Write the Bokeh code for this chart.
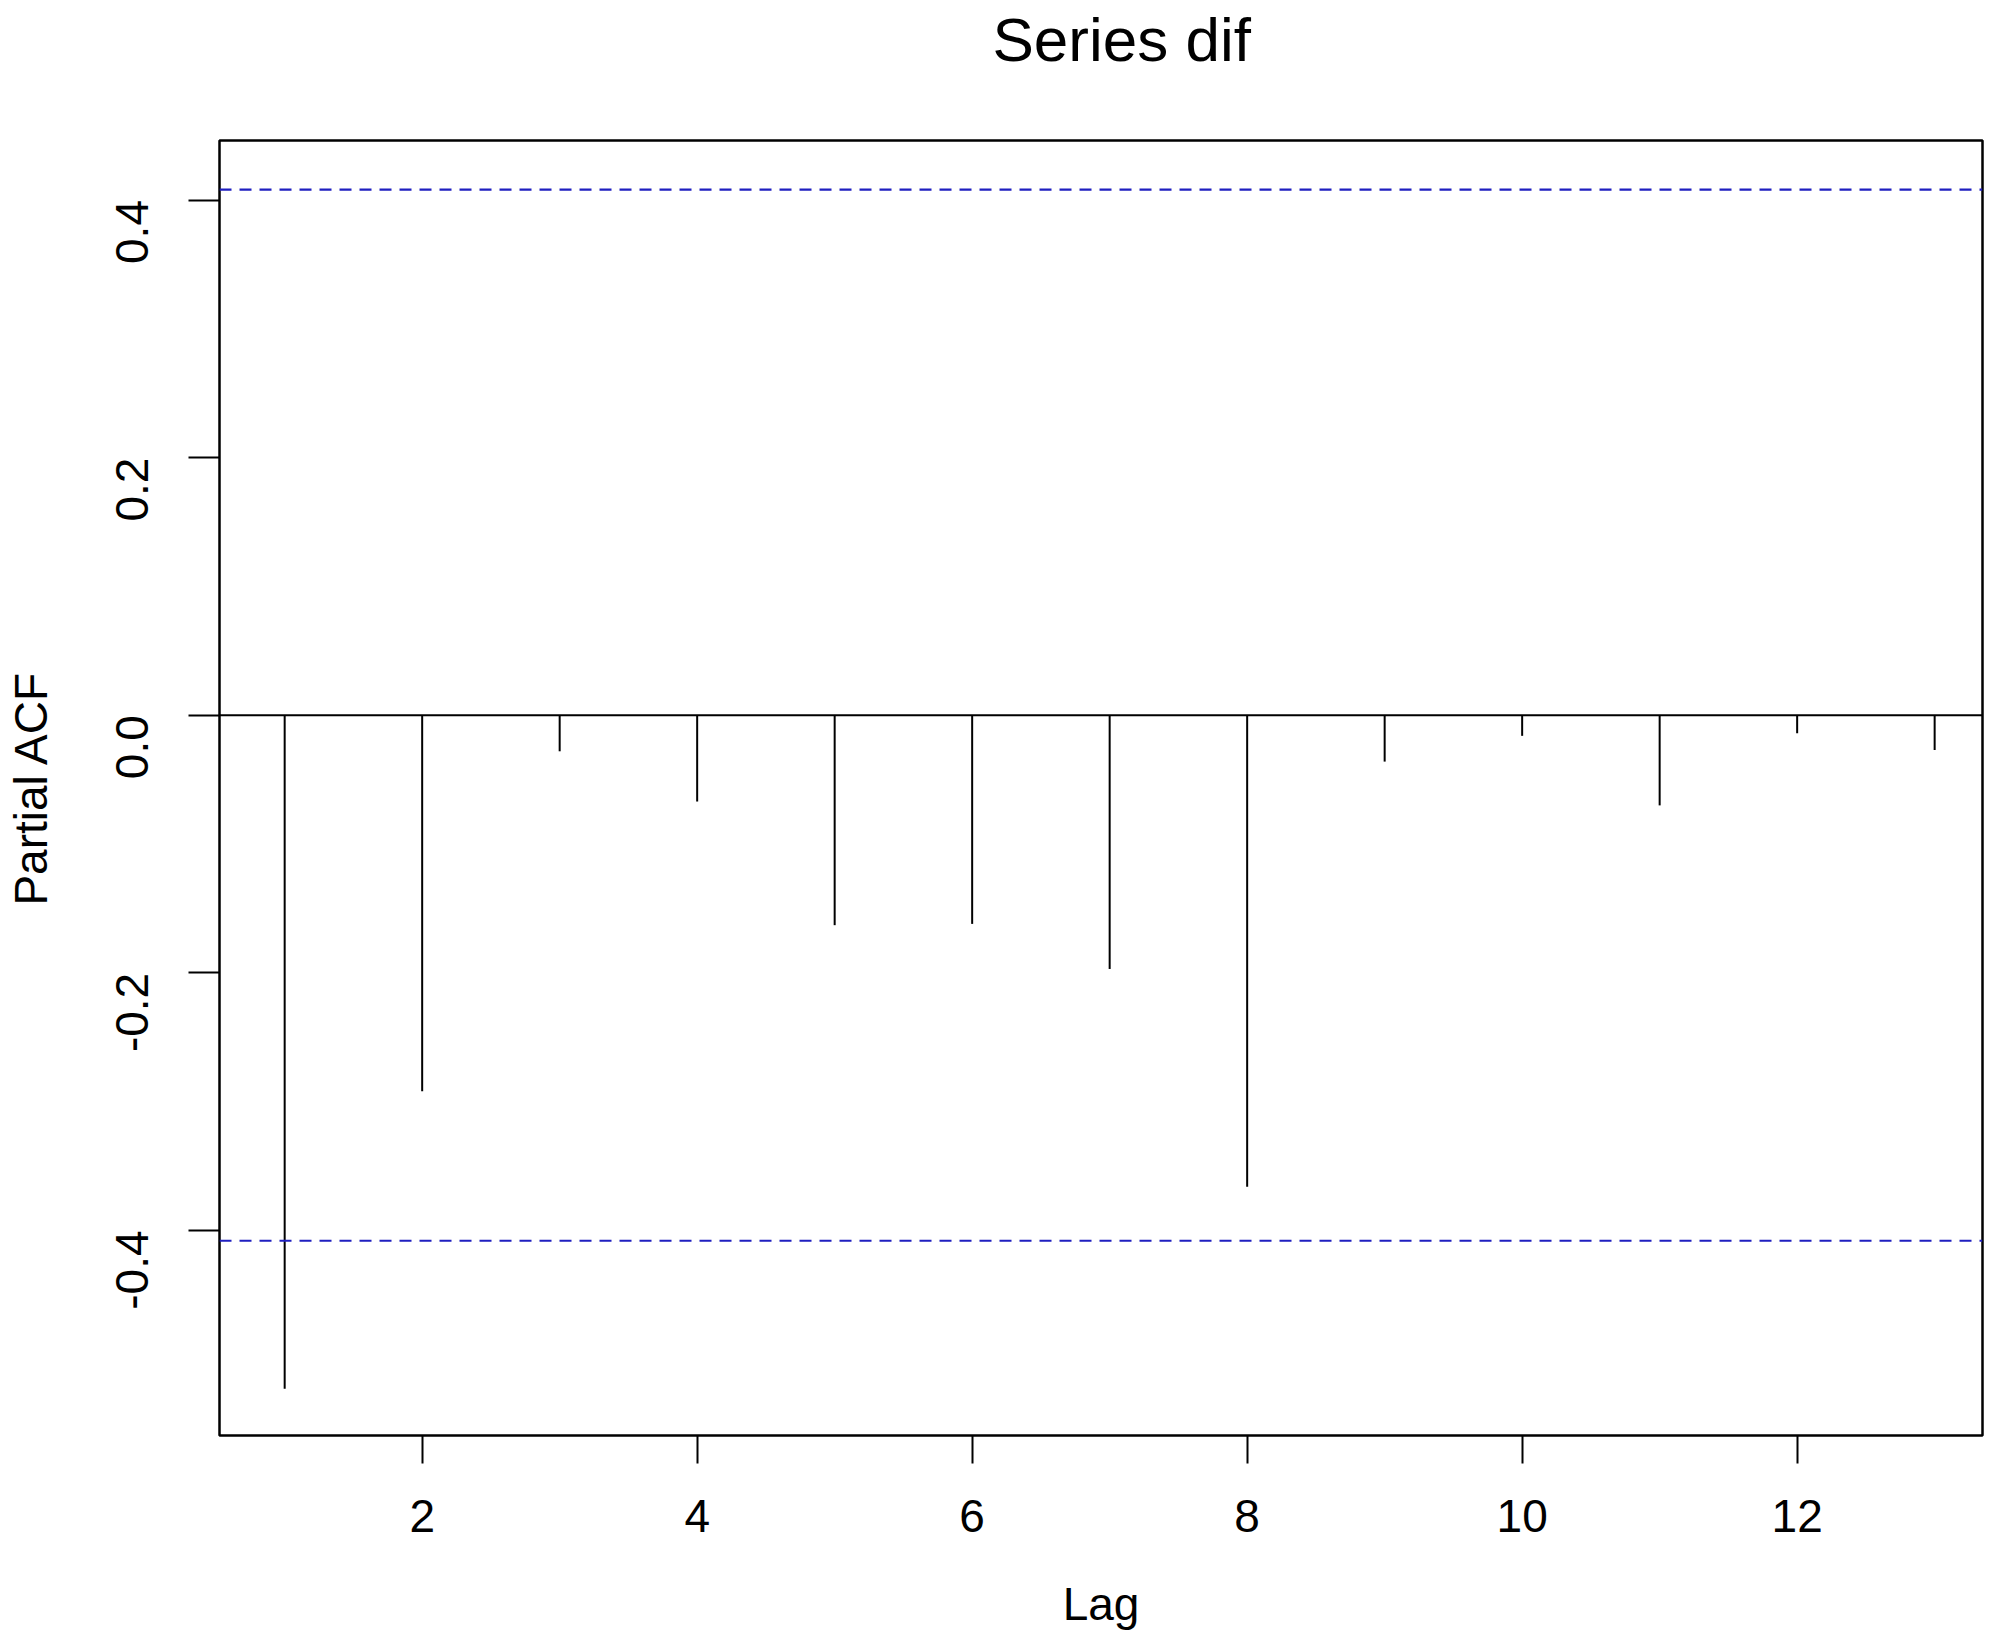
import math
from bokeh.plotting import figure
from bokeh.models import Span, Title, FixedTicker, Range1d
from bokeh.embed import file_html
from bokeh.resources import INLINE

# ---- data ----
lags = [1, 2, 3, 4, 5, 6, 7, 8, 9, 10, 11, 12, 13]
pacf_values = [-0.523, -0.292, -0.028, -0.067, -0.163, -0.162, -0.197,
               -0.366, -0.036, -0.016, -0.070, -0.014, -0.027]
conf_limit = 0.408
x_ticks = [2, 4, 6, 8, 10, 12]
y_ticks = [-0.4, -0.2, 0.0, 0.2, 0.4]
y_tick_labels = ["-0.4", "-0.2", "0.0", "0.2", "0.4"]
title_text = "Series dif"
x_label = "Lag"
y_label = "Partial ACF"

FONT = "Liberation Sans"
W, H = 1984, 1632
LEFT, RIGHT, TOP, BOTTOM = 219, 2, 140, 193

p = figure(width=W, height=H, output_backend="svg", toolbar_location=None,
           x_range=Range1d(0.526, 13.348), y_range=Range1d(-0.5592, 0.4462),
           min_border_left=LEFT, min_border_right=RIGHT,
           min_border_top=TOP, min_border_bottom=BOTTOM)

p.background_fill_color = "white"
p.border_fill_color = "white"
p.outline_line_color = "black"
p.outline_line_width = 2.5
p.grid.visible = False

# x axis
xa = p.xaxis[0]
xa.ticker = FixedTicker(ticks=x_ticks)
xa.minor_tick_line_color = None
xa.axis_line_color = None
xa.major_tick_in = 0
xa.major_tick_out = 28
xa.major_tick_line_width = 2
xa.major_tick_line_color = "black"
xa.major_label_text_font = FONT
xa.major_label_text_font_size = "46px"
xa.major_label_text_color = "black"
xa.major_label_standoff = 36
xa.axis_label = x_label
xa.axis_label_text_font = FONT
xa.axis_label_text_font_size = "46px"
xa.axis_label_text_font_style = "normal"
xa.axis_label_text_color = "black"
xa.axis_label_standoff = 43

# y axis
ya = p.yaxis[0]
ya.ticker = FixedTicker(ticks=y_ticks)
ya.major_label_overrides = {t: s for t, s in zip(y_ticks, y_tick_labels)}
ya.minor_tick_line_color = None
ya.axis_line_color = None
ya.major_tick_in = 0
ya.major_tick_out = 31
ya.major_tick_line_width = 2
ya.major_tick_line_color = "black"
ya.major_label_orientation = math.pi / 2
ya.major_label_text_font = FONT
ya.major_label_text_font_size = "46px"
ya.major_label_text_color = "black"
ya.major_label_standoff = 56
ya.axis_label = y_label
ya.axis_label_text_font = FONT
ya.axis_label_text_font_size = "46px"
ya.axis_label_text_font_style = "normal"
ya.axis_label_text_color = "black"
ya.axis_label_standoff = 41

# zero line and confidence limits
p.add_layout(Span(location=0, dimension="width", line_color="black", line_width=1.8))
for s in (conf_limit, -conf_limit):
    p.add_layout(Span(location=s, dimension="width", line_color="#1f1fc0",
                      line_width=2.2, line_dash="12 8"))

# PACF spikes
p.segment(x0=lags, y0=[0] * len(lags), x1=lags, y1=pacf_values,
          line_color="black", line_width=2)

# title: a blank spacer title next to the frame, then the real title above it
p.title.text = ""
p.add_layout(Title(text=" ", text_font=FONT, text_font_size="58px", standoff=0), "above")
p.add_layout(Title(text=title_text, text_font=FONT, text_font_size="62px",
                   text_font_style="normal", text_color="black",
                   align="left", offset=773, standoff=0), "above")

open("out.html", "w").write(file_html(p, INLINE))
